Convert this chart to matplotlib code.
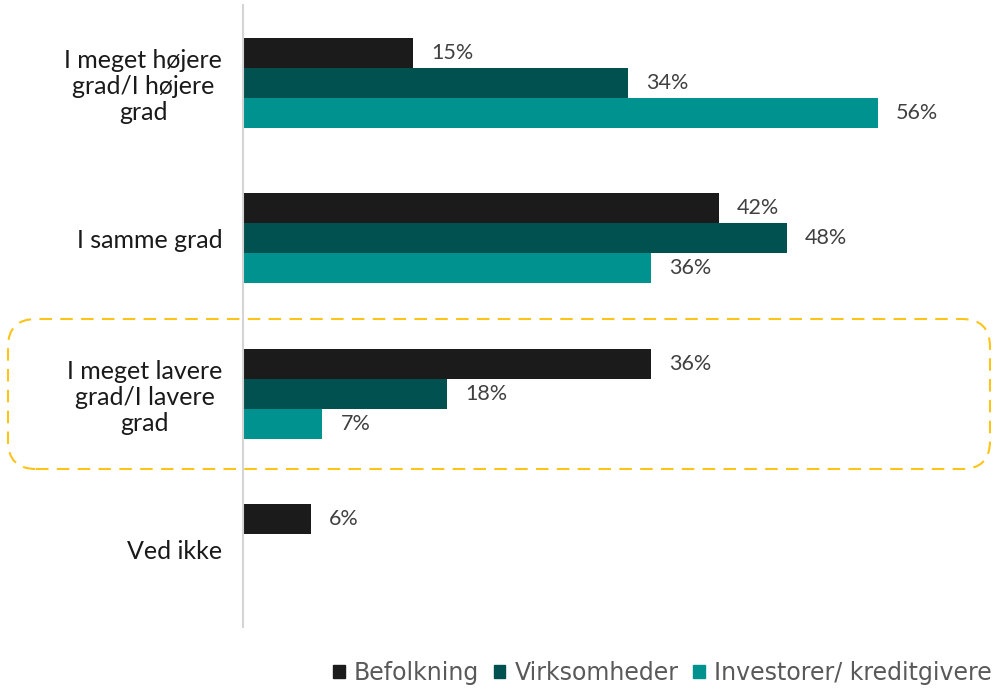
import numpy as np
import matplotlib.pyplot as plt
from matplotlib.patches import FancyBboxPatch, Patch
from matplotlib.transforms import IdentityTransform

categories = ['I meget højere\ngrad/I højere\ngrad', 'I samme grad',
              'I meget lavere\ngrad/I lavere\ngrad', 'Ved ikke']
series = ['Befolkning', 'Virksomheder', 'Investorer/ kreditgivere']
befolkning = [15, 42, 36, 6]
virksomheder = [34, 48, 18, None]
investorer = [56, 36, 7, None]
colors = ['#1b1b1b', '#00514f', '#00928f']

plt.rcParams['font.family'] = ['Lato', 'DejaVu Sans']

fig = plt.figure(figsize=(9.99, 6.89), dpi=100)
ax = fig.add_axes([243 / 999, 62 / 689, 680 / 999, 622 / 689])

y = np.arange(len(categories))
h = 0.193
values = [befolkning, virksomheder, investorer]
for i, (vals, c) in enumerate(zip(values, colors)):
    for j, v in enumerate(vals):
        if v is None:
            continue
        pos = y[j] + (i - 1) * h
        ax.barh(pos, v, height=h, color=c, linewidth=0)
        ax.text(v + 1.6, pos, f'{v}%', va='center', ha='left',
                fontsize=15.5, color='#404040')

ax.set_xlim(0, 60)
ax.set_ylim(3.5, -0.5)
ax.set_xticks([])
ax.set_yticks(y)
ax.set_yticklabels(categories, fontsize=18, color='#1a1a1a',
                   multialignment='center', linespacing=1.15)
ax.tick_params(axis='y', length=0, pad=15)
for s in ['top', 'right', 'bottom']:
    ax.spines[s].set_visible(False)
ax.spines['left'].set_color('#d4d4d4')
ax.spines['left'].set_linewidth(1.5)

# highlight box around the "lavere" group
box = FancyBboxPatch((8, 220), 982, 150,
                     boxstyle='round,pad=0,rounding_size=28',
                     transform=IdentityTransform(), fill=False,
                     edgecolor='#fcc419', linewidth=1.5,
                     linestyle=(0, (6, 4)))
fig.patches.append(box)

handles = [Patch(color=c, label=s) for c, s in zip(colors, series)]
fig.legend(handles=handles, loc='lower right', bbox_to_anchor=(1.0, -0.004),
           ncol=3, frameon=False, handlelength=0.5, handleheight=0.5,
           handletextpad=0.4, columnspacing=0.6, borderpad=0.2,
           borderaxespad=0.1,
           prop={'family': 'Liberation Sans Narrow', 'size': 17},
           labelcolor='#595959')

fig.savefig('out.png', dpi=100)
